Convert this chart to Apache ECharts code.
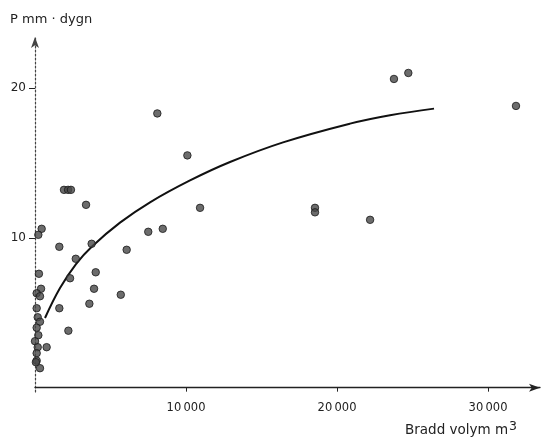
<!DOCTYPE html>
<html>
<head>
<meta charset="utf-8">
<script src="https://cdn.jsdelivr.net/npm/echarts@6/dist/echarts.min.js"></script>
<style>
html,body{margin:0;padding:0;background:#fff;}
#chart{width:543px;height:439px;}
</style>
</head>
<body>
<div id="chart"></div>
<script>
// Observed points: bradd volym (m3) vs P (mm/dygn)
var pointX = [8100,10090,10930,8460,7500,6070,18540,18540,22190,23770,24720,31850,
  1920,2190,2380,3380,1610,3750,2700,2320,4020,3910,5680,3600,1610,2210,770,
  440,220,260,400,110,330,110,180,330,110,220,0,180,110,110,330,60];
var pointY = [18.3,15.5,12.0,10.6,10.4,9.2,12.0,11.7,11.2,20.6,21.0,18.8,
  13.2,13.2,13.2,12.2,9.4,9.6,8.6,7.3,7.7,6.6,6.2,5.6,5.3,3.8,2.7,
  10.6,10.2,7.6,6.6,6.3,6.1,5.3,4.7,4.4,4.0,3.5,3.1,2.7,2.3,1.8,1.3,1.7];
// Fitted curve
var curveX = [662,1656,2715,3775,5629,7616,10265,12914,16424,20861,23510,26424];
var curveY = [4.65,6.65,8.25,9.42,11.01,12.37,13.83,15.06,16.37,17.62,18.18,18.62];
// Tick labels
var xTickValues = [10000,20000,30000];
var xTickLabels = ['10\u2009000','20\u2009000','30\u2009000'];
var yTickValues = [10,20];
var yTickLabels = ['10','20'];

var pts = pointX.map(function(x,i){return [x, pointY[i]];});
var curve = curveX.map(function(x,i){return [x, curveY[i]];});

var chart = echarts.init(document.getElementById('chart'), null, {renderer:'canvas'});
var fontFam = '"DejaVu Sans", "Liberation Sans", sans-serif';
chart.setOption({
  animation:false,
  backgroundColor:'#ffffff',
  grid:{left:35, right:3, top:37, bottom:47, containLabel:false},
  xAxis:{
    type:'value', min:0, max:33440,
    axisLine:{show:true, lineStyle:{color:'#222', width:1.3}, symbol:['none','arrow'], symbolSize:[6,11]},
    axisTick:{show:true, customValues:xTickValues, length:4, lineStyle:{color:'#222'}},
    axisLabel:{show:true, customValues:xTickValues, margin:10, color:'#222', fontSize:11.5, fontFamily:fontFam,
      formatter:function(v){var i=xTickValues.indexOf(v);return i>=0?xTickLabels[i]:'';}},
    splitLine:{show:false}
  },
  yAxis:{
    type:'value', min:-0.29, max:23.4,
    axisLine:{show:true, lineStyle:{color:'#444', width:1.2, type:[2,2]}, symbol:['none','arrow'], symbolSize:[6,11]},
    axisTick:{show:true, customValues:yTickValues, length:6, lineStyle:{color:'#222'}},
    axisLabel:{show:true, customValues:yTickValues, margin:9, color:'#222', fontSize:12, fontFamily:fontFam,
      formatter:function(v){var i=yTickValues.indexOf(v);return i>=0?yTickLabels[i]:'';}},
    splitLine:{show:false}
  },
  series:[
    {type:'line', data:curve, smooth:0.4, showSymbol:false, symbol:'none',
      lineStyle:{color:'#111', width:2}, z:3},
    {type:'scatter', data:pts, symbol:'circle', symbolSize:7.5,
      itemStyle:{color:'#474747', borderColor:'#1a1a1a', borderWidth:1}, z:4}
  ],
  graphic:[
    {type:'text', left:10, top:13, style:{text:'P mm \u00b7 dygn', fill:'#222', font:'13px "DejaVu Sans", sans-serif'}},
    {type:'text', left:405, top:420, style:{
      text:'{a|Bradd volym m}{s|3}',
      rich:{a:{fill:'#222', fontSize:13.5, fontFamily:fontFam, verticalAlign:'bottom', lineHeight:17},
            s:{fill:'#222', fontSize:12.5, fontFamily:fontFam, verticalAlign:'top', lineHeight:17, padding:[0,0,6,1]}}
    }}
  ]
});
</script>
</body>
</html>
